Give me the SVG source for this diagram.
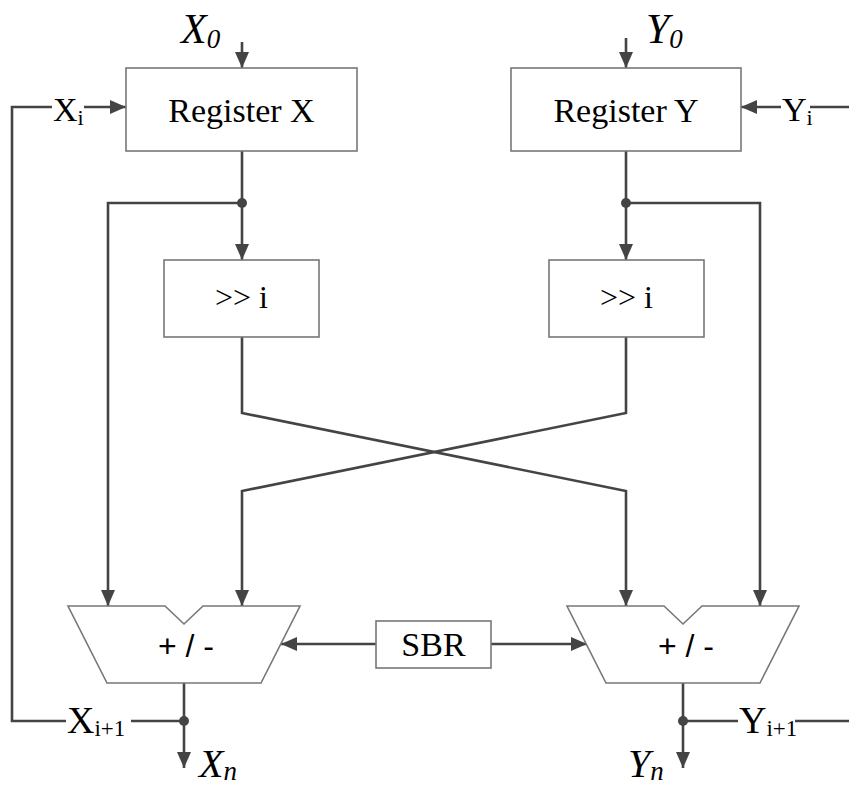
<svg xmlns="http://www.w3.org/2000/svg" width="849" height="787" viewBox="0 0 849 787">
<style>
.box{fill:#fff;stroke:#777;stroke-width:1.6}
.ln{fill:none;stroke:#444;stroke-width:2.6}
.t{font-family:"Liberation Serif","Times New Roman",serif;fill:#000}
.it{font-family:"Liberation Serif","Times New Roman",serif;font-style:italic;fill:#000}
.s{font-family:"Liberation Sans",Arial,sans-serif;fill:#000}
.dot{fill:#444}
</style>
<defs>
<marker id="ah" viewBox="0 0 16 14" refX="16" refY="7" markerWidth="16" markerHeight="14" markerUnits="userSpaceOnUse" orient="auto">
<path d="M0,0 L16,7 L0,14 Z" fill="#444"/>
</marker>
</defs>
<g id="connectors">
<line class="ln" x1="242" y1="42" x2="242" y2="68" marker-end="url(#ah)"/>
<line class="ln" x1="626" y1="38" x2="626" y2="68" marker-end="url(#ah)"/>
<polyline class="ln" points="52,107 12,107 12,721 66,721"/>
<line class="ln" x1="84" y1="107" x2="126" y2="107" marker-end="url(#ah)"/>
<line class="ln" x1="849" y1="107" x2="810" y2="107"/>
<line class="ln" x1="781" y1="107" x2="741" y2="107" marker-end="url(#ah)"/>
<line class="ln" x1="242" y1="151" x2="242" y2="260" marker-end="url(#ah)"/>
<line class="ln" x1="626" y1="151" x2="626" y2="260" marker-end="url(#ah)"/>
<polyline class="ln" points="242,203 108,203 108,606" marker-end="url(#ah)"/>
<polyline class="ln" points="626,203 760,203 760,606" marker-end="url(#ah)"/>
<polyline class="ln" points="242,337 242,413 626,491 626,606" marker-end="url(#ah)"/>
<polyline class="ln" points="626,337 626,413 242,491 242,606" marker-end="url(#ah)"/>
<line class="ln" x1="376" y1="644" x2="281" y2="644" marker-end="url(#ah)"/>
<line class="ln" x1="491" y1="644" x2="587" y2="644" marker-end="url(#ah)"/>
<line class="ln" x1="184" y1="683" x2="184" y2="768" marker-end="url(#ah)"/>
<line class="ln" x1="683" y1="683" x2="683" y2="768" marker-end="url(#ah)"/>
<line class="ln" x1="131" y1="721" x2="184" y2="721"/>
<line class="ln" x1="683" y1="721" x2="738" y2="721"/>
<line class="ln" x1="795" y1="721" x2="849" y2="721"/>
<circle class="dot" cx="242" cy="203" r="5"/>
<circle class="dot" cx="626" cy="203" r="5"/>
<circle class="dot" cx="184" cy="721" r="5"/>
<circle class="dot" cx="683" cy="721" r="5"/>
</g>
<g id="regX">
<rect class="box" x="126" y="68" width="231" height="83"/>
<text class="t" x="241.5" y="122" font-size="34" text-anchor="middle">Register X</text>
</g>
<g id="regY">
<rect class="box" x="511" y="68" width="230" height="83"/>
<text class="t" x="626" y="122" font-size="34" text-anchor="middle">Register Y</text>
</g>
<g id="shiftX">
<rect class="box" x="164" y="260" width="155" height="77"/>
<text class="t" x="241.5" y="308" font-size="32" text-anchor="middle">&gt;&gt; i</text>
</g>
<g id="shiftY">
<rect class="box" x="549" y="260" width="155" height="77"/>
<text class="t" x="626.5" y="308" font-size="32" text-anchor="middle">&gt;&gt; i</text>
</g>
<g id="addX">
<polygon class="box" points="68,606 165,606 184,624 203,606 300,606 261,683 107,683"/>
<text class="s" x="186" y="657" font-size="32" text-anchor="middle">+ / -</text>
</g>
<g id="addY">
<polygon class="box" points="567,606 664,606 683,624 702,606 799,606 760,683 606,683"/>
<text class="s" x="686" y="657" font-size="32" text-anchor="middle">+ / -</text>
</g>
<g id="sbr">
<rect class="box" x="376" y="621" width="115" height="47"/>
<text class="t" x="433.5" y="656" font-size="34" text-anchor="middle">SBR</text>
</g>
<g id="labels">
<text class="it" x="181" y="43" font-size="42">X<tspan font-size="27" dy="5">0</tspan></text>
<text class="it" x="646" y="43" font-size="42">Y<tspan font-size="27" dy="5">0</tspan></text>
<text class="t" x="53" y="121" font-size="34">X<tspan font-size="22" dy="4">i</tspan></text>
<text class="t" x="782" y="121" font-size="34">Y<tspan font-size="22" dy="4">i</tspan></text>
<text class="t" x="67" y="733" font-size="38">X<tspan font-size="23" dy="3">i+1</tspan></text>
<text class="t" x="739" y="733" font-size="38">Y<tspan font-size="23" dy="3">i+1</tspan></text>
<text class="it" x="199" y="777" font-size="40">X<tspan font-size="27" dy="3">n</tspan></text>
<text class="it" x="628" y="777" font-size="40">Y<tspan font-size="27" dy="3">n</tspan></text>
</g>
</svg>
